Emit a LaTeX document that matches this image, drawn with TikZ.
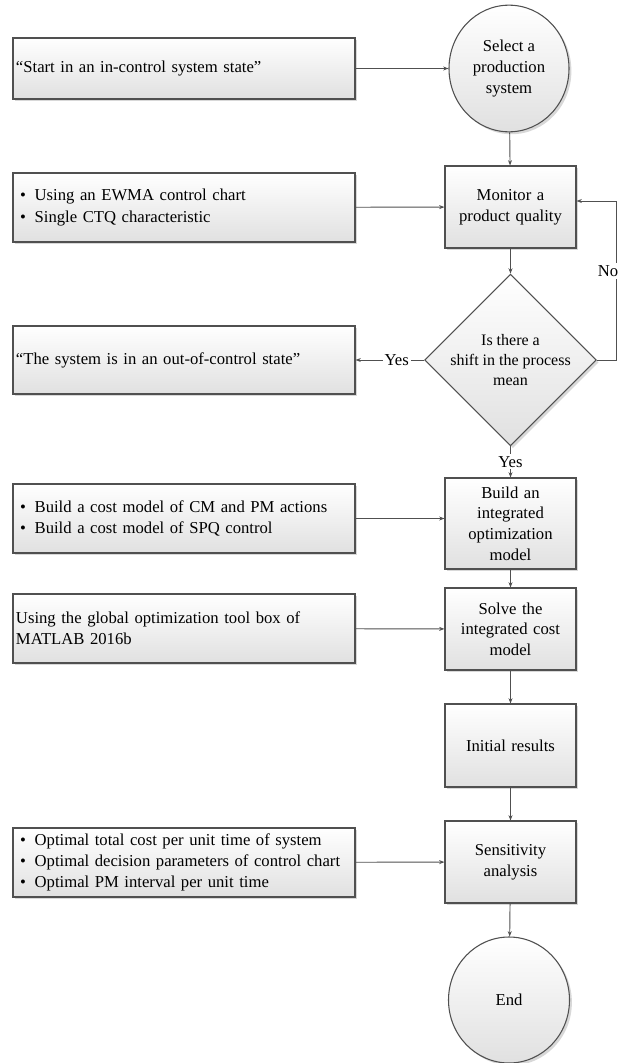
\documentclass[tikz,border=0pt]{standalone}
\usepackage{fontspec}
\setmainfont{Liberation Serif}
\usepackage{tikz}
\usetikzlibrary{shapes.geometric}
\usetikzlibrary{arrows.meta}
\usetikzlibrary{shadows}
\definecolor{edgegray}{HTML}{505050}
\tikzset{
  shaded/.style={draw=edgegray, line width=0.8pt, top color=white, bottom color=black!12,
    drop shadow={shadow xshift=1.8pt, shadow yshift=-1.8pt, opacity=0.3}},
  infobox/.style={shaded, rectangle, minimum width=256.5pt, text width=252pt, inner xsep=1.5pt,
    align=left, font=\fontsize{12.5}{16}\selectfont},
  stepbox/.style={shaded, rectangle, minimum width=98.25pt, text width=92pt, inner xsep=2pt,
    align=center, font=\fontsize{12.5}{15.5}\selectfont},
  terminal/.style={shaded, ellipse, inner sep=0pt, minimum width=90pt, minimum height=95pt,
    align=center, font=\fontsize{12.5}{15.5}\selectfont},
  decision/.style={shaded, diamond, inner sep=0pt, minimum width=118.5pt, minimum height=115.5pt,
    align=center, font=\fontsize{12}{15}\selectfont},
  flow/.style={draw=edgegray, line width=0.7pt, -{Stealth[length=4pt,width=3pt]}},
  answer/.style={fill=white, inner sep=1.5pt, font=\fontsize{12.5}{15.5}\selectfont}
}
\newcommand{\pnt}[1]{\hspace*{3pt}\makebox[11pt][l]{\textbullet}#1}

\begin{document}
\begin{tikzpicture}[x=0.75pt,y=-0.75pt]
  \useasboundingbox[fill=white] (0,0) rectangle (625,1063);
  % left column
  \foreach \y/\h/\lab/\txt in {
    68.5/45.75pt/start/{“Start in an in-control system state”},
    207.5/51.75pt/ewma/{\pnt{Using an EWMA control chart}\\\pnt{Single CTQ characteristic}},
    360/51pt/out/{“The system is in an out-of-control state”},
    518.5/51.75pt/cost/{\pnt{Build a cost model of CM and PM actions}\\\pnt{Build a cost model of SPQ control}},
    628.5/51.75pt/matlab/{Using the global optimization tool box of\\MATLAB 2016b},
    862.5/51.75pt/opt/{\pnt{Optimal total cost per unit time of system}\\\pnt{Optimal decision parameters of control chart}\\\pnt{Optimal PM interval per unit time}}%
  } {
    \node[infobox, minimum height=\h] (\lab) at (184, \y) {\txt};
  }
  % main column
  \node[terminal] (select) at (509, 68.5) {Select a\\production\\system};
  \node[stepbox, minimum height=61.5pt] (monitor) at (510.5, 207) {Monitor a\\product quality};
  \node[decision] (shift) at (510.5, 360) {Is there a\\shift in the process\\mean};
  \node[stepbox, minimum height=68.25pt] (build) at (510.5, 523.5) {Build an\\integrated\\optimization\\model};
  \node[stepbox, minimum height=61.5pt] (solve) at (510.5, 629) {Solve the\\integrated cost\\model};
  \node[stepbox, minimum height=62.25pt] (initial) at (510.5, 745.5) {Initial results};
  \node[stepbox, minimum height=61.5pt] (sens) at (510.5, 862) {Sensitivity\\analysis};
  \node[terminal, minimum width=90.75pt, minimum height=94.5pt] (end) at (509, 1000) {End};
  \coordinate (loop) at (616, 360);

  \draw[flow] (start) -- (select);
  \draw[flow] (select) -- (monitor);
  \draw[flow] (ewma) -- (monitor);
  \draw[flow] (monitor) -- (shift);
  \draw[flow] (shift.east) -- (loop) |- node[answer, pos=0.28, xshift=-6pt] {No} ([yshift=4.5pt]monitor.east);
  \draw[flow] (shift) -- node[answer, pos=0.4] {Yes} (out);
  \draw[flow] (shift) -- node[answer] {Yes} (build);
  \draw[flow] (cost) -- (cost -| build.west);
  \draw[flow] (build) -- (solve);
  \draw[flow] (matlab) -- (solve);
  \draw[flow] (solve) -- (initial);
  \draw[flow] (initial) -- (sens);
  \draw[flow] (opt) -- (sens);
  \draw[flow] (sens) -- (end);
\end{tikzpicture}
\end{document}
